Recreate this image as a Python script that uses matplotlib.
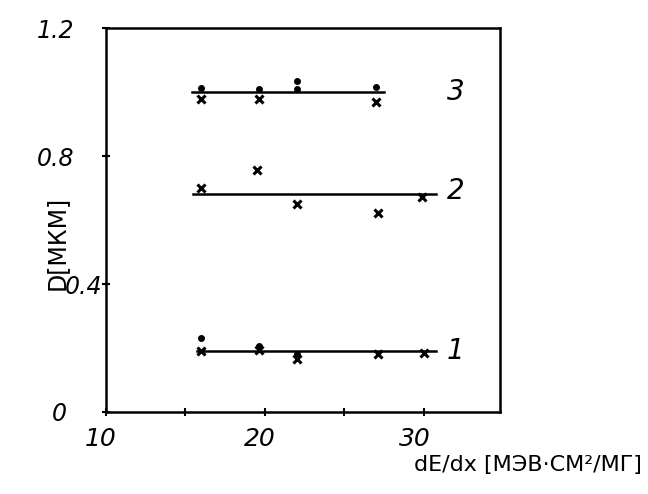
import matplotlib
matplotlib.use('Agg')
import matplotlib.pyplot as plt
import matplotlib.transforms as mtransforms

plt.rcParams['font.family'] = ['DejaVu Sans']

# Серия 3 (кресты и точки)
x3_cross = [16, 19.6, 27]
d3_cross = [0.98, 0.98, 0.97]
x3_dot = [16, 19.6, 22, 22, 27]
d3_dot = [1.013, 1.01, 1.01, 1.035, 1.015]
fit3_x = [15.4, 27.5]
fit3_y = [1.0, 1.0]

# Серия 2
x2_cross = [16, 19.5, 22, 27.1, 29.9]
d2_cross = [0.70, 0.755, 0.65, 0.623, 0.673]
fit2_x = [15.5, 30.8]
fit2_y = [0.68, 0.68]

# Серия 1
x1_cross = [16, 19.6, 22, 27.1, 30.0]
d1_cross = [0.19, 0.195, 0.165, 0.18, 0.185]
x1_dot = [16, 19.6, 22]
d1_dot = [0.23, 0.205, 0.18]
fit1_x = [15.7, 30.8]
fit1_y = [0.19, 0.19]

curve_labels = ['3', '2', '1']
curve_label_y = [1.0, 0.69, 0.19]

xticks = [10, 20, 30]
yticks = [0, 0.4, 0.8, 1.2]
yticklabels = ['0', '0.4', '0.8', '1.2']

fig = plt.figure(figsize=(6.48, 4.94), dpi=100)
ax = fig.add_axes([0.1636, 0.166, 0.608, 0.777])

for fx, fy in [(fit1_x, fit1_y), (fit2_x, fit2_y), (fit3_x, fit3_y)]:
    ax.plot(fx, fy, color='black', lw=1.8)

for xs, ds in [(x3_cross, d3_cross), (x2_cross, d2_cross), (x1_cross, d1_cross)]:
    ax.plot(xs, ds, linestyle='none', marker='x', color='black', ms=6, mew=2.2)

for xs, ds in [(x3_dot, d3_dot), (x1_dot, d1_dot)]:
    ax.plot(xs, ds, linestyle='none', marker='o', color='black', ms=4)

for lab, yv in zip(curve_labels, curve_label_y):
    ax.text(32.0, yv, lab, fontsize=20, style='italic', va='center', ha='center')

ax.set_xlim(10, 34.8)
ax.set_ylim(0, 1.2)
ax.set_xticks(xticks)
ax.set_xticks([15, 25], minor=True)
ax.set_yticks(yticks)
ax.set_yticklabels(yticklabels)
ax.tick_params(which='both', direction='inout', length=6, width=1.5)
ax.tick_params(axis='x', labelsize=18, pad=8)
ax.tick_params(axis='y', labelsize=17, pad=20)
for s in ax.spines.values():
    s.set_linewidth(1.8)

# подписи делений сдвинуты как в оригинале (рукописный вид)
y_shift = [-7, 28, 0, 0]
x_shift = [-5, -5, -9]
for t, dx in zip(ax.get_yticklabels(), y_shift):
    t.set_style('italic')
    t.set_transform(t.get_transform() + mtransforms.ScaledTranslation(dx / 100, 0, fig.dpi_scale_trans))
for t, dx in zip(ax.get_xticklabels(), x_shift):
    t.set_style('italic')
    t.set_transform(t.get_transform() + mtransforms.ScaledTranslation(dx / 100, 0, fig.dpi_scale_trans))

fig.text(0.088, 0.508, 'D[МКМ]', fontsize=17, rotation=90, ha='center', va='center')
fig.text(0.99, 0.058, 'dE/dx [МЭВ·СМ²/МГ]', fontsize=16, ha='right', va='center')

fig.savefig('out.png', dpi=100)
